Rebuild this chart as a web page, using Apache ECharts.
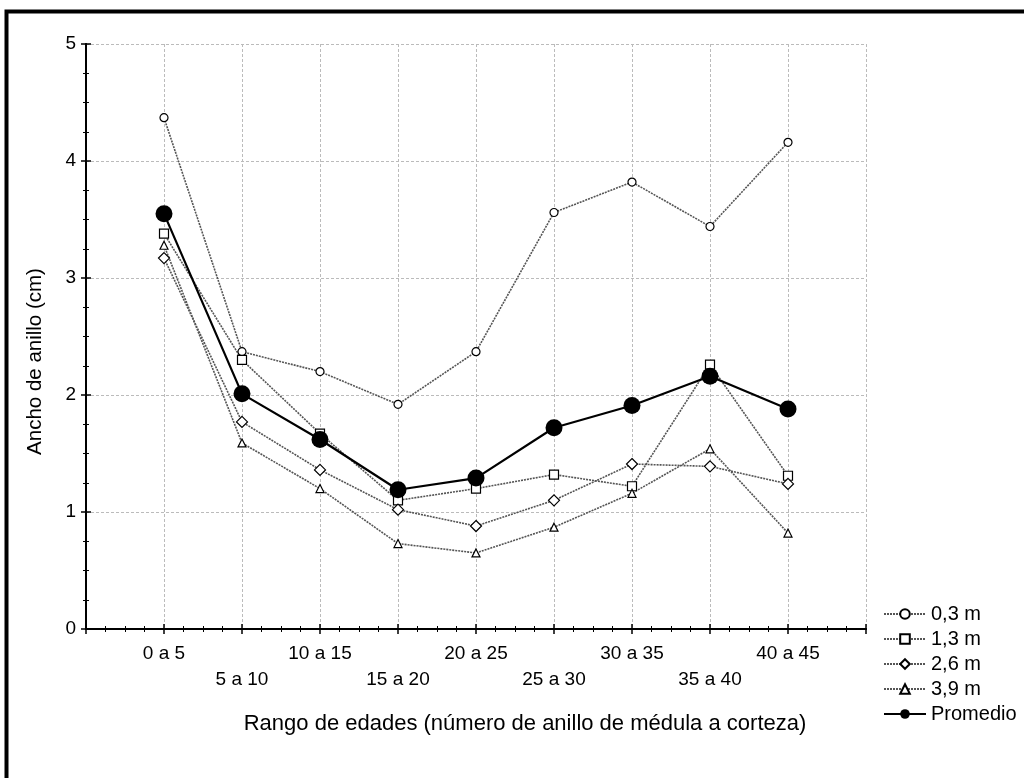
<!DOCTYPE html>
<html>
<head>
<meta charset="utf-8">
<script src="https://cdn.jsdelivr.net/npm/echarts@6/dist/echarts.min.js"></script>
<style>
  html, body { margin: 0; padding: 0; background: #fff; }
  #root { width: 1024px; height: 778px; }
</style>
</head>
<body>
<div id="root"></div>
<script>
// chart data
var categories = ['0 a 5', '5 a 10', '10 a 15', '15 a 20', '20 a 25', '25 a 30', '30 a 35', '35 a 40', '40 a 45']
var yTicks = [0, 1, 2, 3, 4, 5]

var h03 = [4.37, 2.37, 2.20, 1.92, 2.37, 3.56, 3.82, 3.44, 4.16]
var h13 = [3.38, 2.30, 1.67, 1.10, 1.20, 1.32, 1.22, 2.26, 1.31]
var h26 = [3.17, 1.77, 1.36, 1.02, 0.88, 1.10, 1.41, 1.39, 1.24]
var h39 = [3.28, 1.59, 1.20, 0.73, 0.65, 0.87, 1.16, 1.54, 0.82]
var promedio = [3.55, 2.01, 1.62, 1.19, 1.29, 1.72, 1.91, 2.16, 1.88]

var seriesNames = ['0,3 m', '1,3 m', '2,6 m', '3,9 m', 'Promedio']

var font = '"Liberation Sans", Arial, sans-serif'

function pts(arr) {
    return arr.map(function (v, i) { return [i + 1, v] })
}

function heightSeries(name, arr, symbol, size) {
    return {
        name: name,
        type: 'line',
        data: pts(arr),
        symbol: symbol,
        symbolSize: size,
        itemStyle: { color: '#fff', borderColor: '#000', borderWidth: 1.2 },
        lineStyle: { color: '#555', width: 1.6, type: [2, 1] },
        z: 3
    }
}

function ticks() {
    return { show: true, inside: true, length: 5, lineStyle: { color: '#000', width: 1.5 } }
}
function minor() {
    return { show: true, splitNumber: 4, length: 3, lineStyle: { color: '#000', width: 1 } }
}

var chart = echarts.init(document.getElementById('root'), null, { renderer: 'canvas' })

var option = {
    animation: false,
    backgroundColor: '#fff',
    textStyle: { fontFamily: font },
    graphic: [{
        type: 'rect',
        left: 4, top: 9,
        shape: { width: 1040, height: 800 },
        style: { fill: 'none', stroke: '#000', lineWidth: 4 },
        silent: true
    }],
    grid: { left: 86, top: 44, right: 158, bottom: 149 },
    legend: {
        orient: 'vertical',
        left: 878, top: 599,
        itemWidth: 42, itemHeight: 12,
        itemGap: 5,
        data: seriesNames,
        textStyle: { fontFamily: font, fontSize: 20, lineHeight: 20, color: '#000' }
    },
    xAxis: [{
        type: 'value',
        min: 0, max: 10, interval: 1,
        name: 'Rango de edades (número de anillo de médula a corteza)',
        nameLocation: 'middle',
        nameGap: 84,
        nameTextStyle: { fontFamily: font, fontSize: 22, color: '#000', padding: [0, 0, 0, 98] },
        axisLine: { lineStyle: { color: '#000', width: 2 } },
        axisTick: ticks(),
        minorTick: minor(),
        splitLine: { show: true, lineStyle: { color: '#bbb', type: [3, 2], width: 1 } },
        axisLabel: {
            margin: 12,
            fontFamily: font, fontSize: 19, color: '#000',
            lineHeight: 26,
            showMinLabel: false, showMaxLabel: false,
            formatter: function (v) {
                var i = v - 1
                if (i < 0 || i >= categories.length) return ''
                return i % 2 === 0 ? categories[i] : '\n' + categories[i]
            }
        }
    }, {
        type: 'value',
        position: 'top',
        min: 0, max: 10, interval: 1,
        axisLine: { lineStyle: { color: '#000', width: 2 } },
        axisTick: ticks(),
        minorTick: minor(),
        axisLabel: { show: false },
        splitLine: { show: false }
    }],
    yAxis: [{
        type: 'value',
        min: yTicks[0], max: yTicks[yTicks.length - 1], interval: 1,
        name: 'Ancho de anillo (cm)',
        nameLocation: 'middle',
        nameGap: 40,
        nameTextStyle: { fontFamily: font, fontSize: 20.5, color: '#000', padding: [0, 50, 0, 0] },
        axisLine: { show: true, lineStyle: { color: '#000', width: 2 } },
        axisTick: ticks(),
        minorTick: minor(),
        splitLine: { show: true, lineStyle: { color: '#bbb', type: [3, 2], width: 1 } },
        axisLabel: { margin: 10, fontFamily: font, fontSize: 19, color: '#000' }
    }, {
        type: 'value',
        position: 'right',
        min: 0, max: 5, interval: 1,
        axisLine: { show: true, lineStyle: { color: '#000', width: 2 } },
        axisTick: ticks(),
        minorTick: minor(),
        axisLabel: { show: false },
        splitLine: { show: false }
    }],
    series: [
        heightSeries(seriesNames[0], h03, 'circle', 8),
        heightSeries(seriesNames[1], h13, 'rect', 9),
        heightSeries(seriesNames[2], h26, 'diamond', 11),
        heightSeries(seriesNames[3], h39, 'triangle', 8),
        {
            name: seriesNames[4],
            type: 'line',
            data: pts(promedio),
            symbol: 'circle',
            symbolSize: 17,
            itemStyle: { color: '#000' },
            lineStyle: { color: '#000', width: 2.2 },
            z: 4
        }
    ]
}

chart.setOption(option)
</script>
</body>
</html>
